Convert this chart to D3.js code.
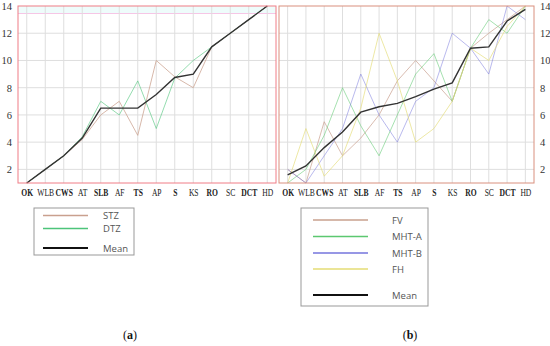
<!DOCTYPE html>
<html>
<head>
<meta charset="utf-8">
<script src="https://cdn.jsdelivr.net/npm/d3@7"></script>
<style>
  body { margin: 0; background: #fff; }
  svg { display: block; }
</style>
</head>
<body>
<svg id="chart" width="550" height="346"></svg>
<script>
// ---------------- data ----------------
var cats = ["OK","WLB","CWS","AT","SLB","AF","TS","AP","S","KS","RO","SC","DCT","HD"];
var boldCats = ["OK","CWS","SLB","TS","S","RO","DCT"];
var yTicks = [2,4,6,8,10,12,14];

// panel (a)
var stz   = [1, 2, 3, 4.2, 6, 7, 4.5, 10, 8.8, 8, 11, 12, 13, 14];
var dtz   = [1, 2, 3, 4.4, 7, 6, 8.5, 5, 8.7, 10, 11, 12, 13, 14];
var meanA = [1, 2, 3, 4.3, 6.5, 6.5, 6.5, 7.5, 8.75, 9, 11, 12, 13, 14];

// panel (b)
var fv    = [2, 1, 5.5, 3, 4.3, 6, 8.5, 10, 8.5, 7, 10.9, 12, 13, 14];
var mhtA  = [1, 2, 4.5, 8, 5.2, 3, 6, 9, 10.5, 7, 10.9, 13, 12, 14];
var mhtB  = [2, 1, 3, 5, 9, 6, 4, 7, 8, 12, 10.9, 9, 14, 13];
var fh    = [1, 5, 1.5, 3, 6.5, 12, 8.5, 4, 5, 7, 10.9, 10, 12.5, 14];
var meanB = [1.6, 2.25, 3.6, 4.75, 6.2, 6.6, 6.85, 7.35, 7.9, 8.35, 10.9, 11, 12.9, 13.75];

var colSTZ = "#c9a08e", colDTZ = "#4cc47a";
var colFV = "#c9a08e", colA = "#5cc870", colB = "#7474dc", colFH = "#e4dc74";

// ---------------- layout ----------------
var svg = d3.select("#chart");
var yTop = 6, yBot = 183;

var y = d3.scaleLinear().domain([1, 14]).range([yBot, yTop]);

function panel(opts) {
  var x = d3.scalePoint().domain(cats).range([opts.left - 0.5, opts.right + 0.5]).padding(0.5);
  var g = svg.append("g");

  // faint band at top of panel (a), as in the scan
  if (opts.band) {
    g.append("rect").attr("x", opts.left).attr("y", yTop)
      .attr("width", opts.right - opts.left).attr("height", 7.5)
      .attr("fill", "#eefcfb");
    g.append("line").attr("x1", opts.left).attr("x2", opts.right)
      .attr("y1", yTop + 7.5).attr("y2", yTop + 7.5)
      .attr("stroke", "#f6c6e6").attr("stroke-width", 1);
  }

  // grid
  g.selectAll(".vg").data(cats).enter().append("line")
    .attr("x1", function(d){ return x(d); }).attr("x2", function(d){ return x(d); })
    .attr("y1", yTop).attr("y2", yBot)
    .attr("stroke", "#dedede").attr("stroke-width", 1);
  g.selectAll(".hg").data(yTicks.slice(0, -1)).enter().append("line")
    .attr("x1", opts.left).attr("x2", opts.right)
    .attr("y1", function(d){ return y(d); }).attr("y2", function(d){ return y(d); })
    .attr("stroke", "#dedede").attr("stroke-width", 1);

  var line = d3.line()
    .x(function(d, i){ return x(cats[i]); })
    .y(function(d){ return y(d); });

  opts.series.forEach(function(s) {
    g.append("path").datum(s.values)
      .attr("d", line)
      .attr("fill", "none")
      .attr("stroke", s.color)
      .attr("stroke-opacity", s.opacity)
      .attr("stroke-width", s.width);
  });

  // frame
  g.append("rect")
    .attr("x", opts.left).attr("y", yTop)
    .attr("width", opts.right - opts.left).attr("height", yBot - yTop)
    .attr("fill", "none").attr("stroke", opts.frame).attr("stroke-width", 1);

  // y axis labels
  var yAxis = (opts.yRight ? d3.axisRight(y) : d3.axisLeft(y))
    .tickValues(yTicks).tickSize(0).tickPadding(5);
  var ya = g.append("g")
    .attr("transform", "translate(" + (opts.yRight ? opts.right + 1 : opts.left - 1) + ",0)")
    .call(yAxis);
  ya.select(".domain").remove();
  ya.selectAll("text").attr("font-family", "Liberation Serif, serif")
    .attr("font-size", 10.5).attr("fill", "#333");

  // x axis labels (condensed to fit like the original)
  var xa = g.append("g")
    .attr("transform", "translate(0," + yBot + ")")
    .call(d3.axisBottom(x).tickSize(0).tickPadding(6));
  xa.select(".domain").remove();
  xa.selectAll("text").attr("font-family", "Liberation Serif, serif")
    .attr("font-size", 9.5).attr("fill", "#222")
    .attr("transform", "scale(0.8,1)")
    .attr("font-weight", function(d){ return boldCats.indexOf(d) >= 0 ? "bold" : "normal"; });

  // legend
  var L = opts.legend;
  g.append("rect")
    .attr("x", L.x).attr("y", L.y).attr("width", L.w).attr("height", L.h)
    .attr("fill", "#fff").attr("stroke", "#999").attr("stroke-width", 1);
  var items = g.selectAll(".leg").data(L.items).enter().append("g");
  items.append("line")
    .attr("x1", L.x1).attr("x2", L.x2)
    .attr("y1", function(d){ return d.y; }).attr("y2", function(d){ return d.y; })
    .attr("stroke", function(d){ return d.color; })
    .attr("stroke-width", function(d){ return d.width; });
  items.append("text")
    .attr("x", L.tx).attr("y", function(d){ return d.y + 3.5; })
    .attr("font-family", "Open Sans, sans-serif").attr("font-size", 9.5)
    .attr("fill", "#555")
    .text(function(d){ return d.name; });

  // caption
  var cap = g.append("text")
    .attr("x", opts.capX).attr("y", 339)
    .attr("text-anchor", "middle")
    .attr("font-family", "Liberation Serif, serif").attr("font-size", 12)
    .attr("fill", "#111");
  cap.append("tspan").text("(");
  cap.append("tspan").attr("font-weight", "bold").text(opts.cap);
  cap.append("tspan").text(")");
}

panel({
  left: 18, right: 276, frame: "#f07c86", yRight: false, band: true,
  series: [
    {values: stz, color: colSTZ, opacity: 0.75, width: 1},
    {values: dtz, color: colDTZ, opacity: 0.6, width: 1},
    {values: meanA, color: "#333", opacity: 1, width: 1.4}
  ],
  legend: {
    x: 34, y: 208, w: 100, h: 47, x1: 43, x2: 88, tx: 103,
    items: [
      {name: "STZ", color: colSTZ, width: 1.3, y: 215.5},
      {name: "DTZ", color: colDTZ, width: 1.3, y: 228.5},
      {name: "Mean", color: "#111", width: 2.2, y: 248}
    ]
  },
  capX: 130, cap: "a"
});

panel({
  left: 279, right: 534, frame: "#d9907e", yRight: true, band: false,
  series: [
    {values: fv, color: colFV, opacity: 0.7, width: 1},
    {values: mhtA, color: colA, opacity: 0.55, width: 1},
    {values: mhtB, color: colB, opacity: 0.5, width: 1},
    {values: fh, color: colFH, opacity: 0.65, width: 1},
    {values: meanB, color: "#333", opacity: 1, width: 1.4}
  ],
  legend: {
    x: 301, y: 208, w: 127, h: 98, x1: 313, x2: 368, tx: 392,
    items: [
      {name: "FV", color: colFV, width: 1.3, y: 220},
      {name: "MHT-A", color: colA, width: 1.3, y: 236.5},
      {name: "MHT-B", color: colB, width: 1.3, y: 253},
      {name: "FH", color: colFH, width: 1.3, y: 269},
      {name: "Mean", color: "#111", width: 2.2, y: 295}
    ]
  },
  capX: 410, cap: "b"
});
</script>
</body>
</html>
